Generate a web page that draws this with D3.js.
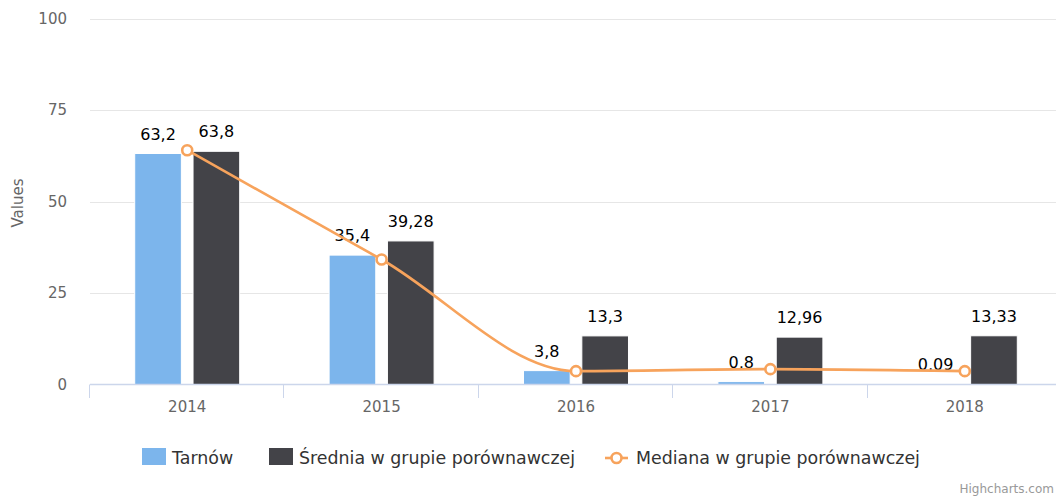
<!DOCTYPE html>
<html>
<head>
<meta charset="utf-8">
<script src="https://cdn.jsdelivr.net/npm/d3@7"></script>
<style>
    html, body { margin: 0; padding: 0; background: #fff; }
    svg { display: block; font-family: "DejaVu Sans", Verdana, sans-serif; }
</style>
</head>
<body>
<div id="chart-container"></div>
<script>
(function () {
    'use strict';

    var years = ['2014', '2015', '2016', '2017', '2018'];
    var tarnow = [63.2, 35.4, 3.8, 0.8, 0.09];
    var srednia = [63.8, 39.28, 13.3, 12.96, 13.33];
    var mediana = [64.1, 34.2, 3.65, 4.2, 3.65];
    var yTicks = [0, 25, 50, 75, 100];
    var seriesNames = ['Tarnów', 'Średnia w grupie porównawczej', 'Mediana w grupie porównawczej'];

    var width = 1056;
    var height = 497;
    var colors = ['#7cb5ec', '#434348', '#f7a35c'];

    var x = d3.scaleBand()
        .domain(years)
        .range([90, 1062]);

    var inner = d3.scaleBand()
        .domain([0, 1])
        .range([0, x.bandwidth() * 0.6])
        .paddingInner(0.2)
        .paddingOuter(0.1);

    var y = d3.scaleLinear()
        .domain([0, 100])
        .range([384.5, 19]);

    var fmt = function (v) { return String(v).replace('.', ','); };

    var svg = d3.select('#chart-container')
        .append('svg')
        .attr('width', width)
        .attr('height', height);

    // grid
    svg.append('g')
        .selectAll('line')
        .data(yTicks.slice(1))
        .enter()
        .append('line')
        .attr('x1', 90)
        .attr('x2', 1062)
        .attr('y1', function (d) { return Math.round(y(d)) + 0.5; })
        .attr('y2', function (d) { return Math.round(y(d)) + 0.5; })
        .style('stroke', '#e6e6e6')
        .style('stroke-width', 1);

    // y labels
    svg.append('g')
        .selectAll('text')
        .data(yTicks)
        .enter()
        .append('text')
        .attr('x', 67)
        .attr('y', function (d) { return y(d) + 5; })
        .attr('text-anchor', 'end')
        .style('font-size', '15px')
        .style('fill', '#666')
        .text(function (d) { return d; });

    svg.append('text')
        .attr('transform', 'translate(23,203) rotate(-90)')
        .attr('text-anchor', 'middle')
        .style('font-size', '15px')
        .style('fill', '#666')
        .text('Values');

    // columns
    var groups = svg.append('g')
        .selectAll('g')
        .data(years)
        .enter()
        .append('g')
        .attr('transform', function (d) {
            return 'translate(' + (x(d) + x.bandwidth() * 0.2) + ',0)';
        });

    [tarnow, srednia].forEach(function (vals, si) {
        groups.append('rect')
            .attr('x', inner(si))
            .attr('width', inner.bandwidth())
            .attr('y', function (d, i) { return y(vals[i]); })
            .attr('height', function (d, i) { return y(0) - y(vals[i]); })
            .style('fill', colors[si])
            .style('stroke', '#fff')
            .style('stroke-width', 1);
    });

    // x axis
    svg.append('line')
        .attr('x1', 90)
        .attr('x2', 1062)
        .attr('y1', 384.5)
        .attr('y2', 384.5)
        .style('stroke', '#ccd6eb')
        .style('stroke-width', 1.5);

    svg.append('g')
        .selectAll('line')
        .data(years.concat(['end']))
        .enter()
        .append('line')
        .attr('x1', function (d, i) { return Math.round(90 + i * x.step()) - 0.5; })
        .attr('x2', function (d, i) { return Math.round(90 + i * x.step()) - 0.5; })
        .attr('y1', 384.5)
        .attr('y2', 398)
        .style('stroke', '#ccd6eb');

    svg.append('g')
        .selectAll('text')
        .data(years)
        .enter()
        .append('text')
        .attr('x', function (d) { return x(d) + x.bandwidth() / 2; })
        .attr('y', 412)
        .attr('text-anchor', 'middle')
        .style('font-size', '15px')
        .style('fill', '#666')
        .text(function (d) { return d; });

    // median spline
    var line = d3.line()
        .x(function (d, i) { return x(years[i]) + x.bandwidth() / 2; })
        .y(function (d) { return y(d); })
        .curve(d3.curveMonotoneX);

    svg.append('path')
        .datum(mediana)
        .attr('d', line)
        .style('fill', 'none')
        .style('stroke', colors[2])
        .style('stroke-width', 2.6);

    svg.append('g')
        .selectAll('circle')
        .data(mediana)
        .enter()
        .append('circle')
        .attr('cx', function (d, i) { return x(years[i]) + x.bandwidth() / 2; })
        .attr('cy', function (d) { return y(d); })
        .attr('r', 5)
        .style('fill', '#fff')
        .style('stroke', colors[2])
        .style('stroke-width', 2.6);

    // data labels
    [tarnow, srednia].forEach(function (vals, si) {
        groups.append('text')
            .attr('x', inner(si) + inner.bandwidth() / 2)
            .attr('y', function (d, i) { return y(vals[i]) - 14; })
            .attr('text-anchor', 'middle')
            .style('font-size', '16px')
            .style('fill', '#000')
            .style('stroke', '#fff')
            .style('stroke-width', 2)
            .style('stroke-linejoin', 'round')
            .style('paint-order', 'stroke')
            .text(function (d, i) { return fmt(vals[i]); });
    });

    // legend
    var legendX = [142, 269, 605];
    var legend = svg.append('g')
        .selectAll('g')
        .data(seriesNames)
        .enter()
        .append('g')
        .attr('transform', function (d, i) { return 'translate(' + legendX[i] + ',0)'; });

    legend.filter(function (d, i) { return i < 2; })
        .append('rect')
        .attr('x', 0)
        .attr('y', 448)
        .attr('width', 24)
        .attr('height', 17)
        .style('fill', function (d, i) { return colors[i]; });

    var med = legend.filter(function (d, i) { return i === 2; });
    med.append('line')
        .attr('x1', 0)
        .attr('x2', 23)
        .attr('y1', 458)
        .attr('y2', 458)
        .style('stroke', colors[2])
        .style('stroke-width', 2.6);
    med.append('circle')
        .attr('cx', 11.5)
        .attr('cy', 458)
        .attr('r', 5)
        .style('fill', '#fff')
        .style('stroke', colors[2])
        .style('stroke-width', 2.6);

    legend.append('text')
        .attr('x', function (d, i) { return i === 2 ? 31 : 30; })
        .attr('y', 464)
        .style('font-size', '17.4px')
        .style('fill', '#333')
        .text(function (d) { return d; });

    svg.append('text')
        .attr('x', 1054)
        .attr('y', 493)
        .attr('text-anchor', 'end')
        .style('font-size', '12px')
        .style('fill', '#999')
        .text('Highcharts.com');
}());
</script>
</body>
</html>
